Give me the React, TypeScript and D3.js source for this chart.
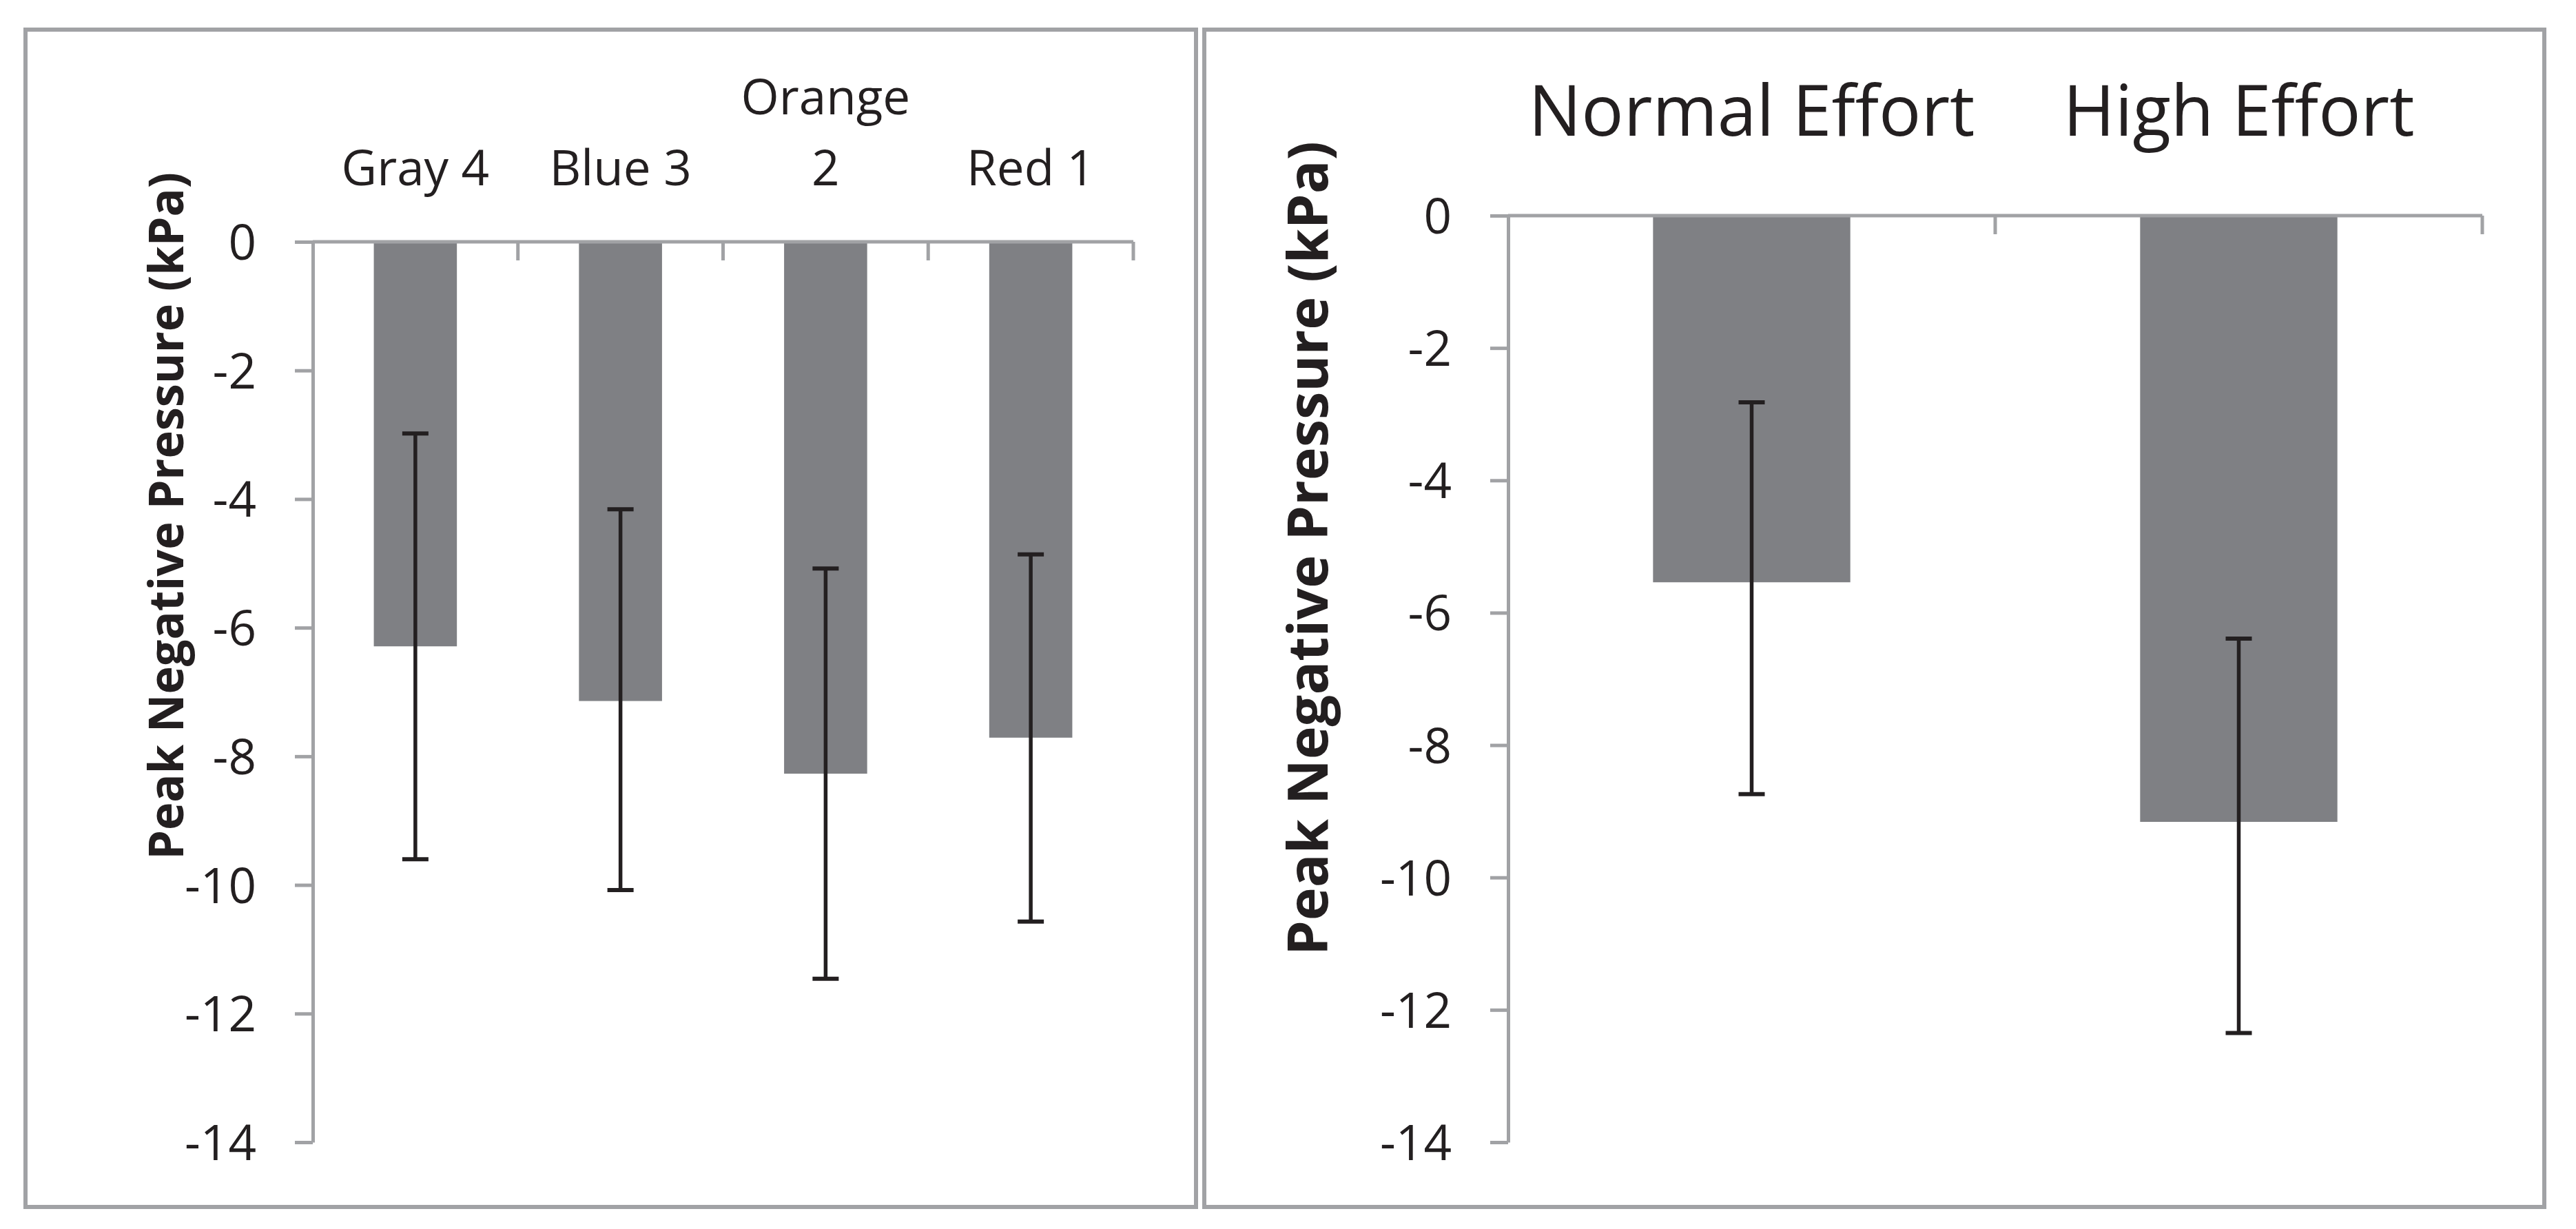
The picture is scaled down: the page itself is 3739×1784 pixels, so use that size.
import * as d3 from 'd3';
import { useEffect, useRef } from 'react';

// left panel: colour groups
const colorCategories = ['Gray 4', 'Blue 3', 'Orange 2', 'Red 1'];
const colorMeans = [-6.29, -7.14, -8.27, -7.71];
const colorErrUp = [3.31, 2.98, 3.19, 2.85];
const colorErrDown = [3.31, 2.94, 3.19, 2.86];

// right panel: effort groups
const effortCategories = ['Normal Effort', 'High Effort'];
const effortMeans = [-5.54, -9.16];
const effortErrUp = [2.72, 2.77];
const effortErrDown = [3.2, 3.19];

const yTicks = [0, -2, -4, -6, -8, -10, -12, -14];
const yTitle = 'Peak Negative Pressure (kPa)';

const W = 3739;
const H = 1784;
const axisColor = '#a1a2a5';
const barColor = '#7f8084';
const inkColor = '#231f20';
const labelFont = '"Open Sans", "Noto Sans", sans-serif';

interface PanelOpts {
    box: [number, number, number, number];
    categories: string[];
    means: number[];
    errUp: number[];
    errDown: number[];
    xRange: [number, number];
    yRange: [number, number];
    catSize: number;
    catBaseline: number;
    titleX: number;
    titleY: number;
    titleSize: number;
    titleLength: number;
}

function drawPanel(svg: d3.Selection<SVGSVGElement, unknown, null, undefined>, o: PanelOpts) {
    const g = svg.append('g');

    g.append('rect')
        .attr('x', o.box[0])
        .attr('y', o.box[1])
        .attr('width', o.box[2])
        .attr('height', o.box[3])
        .attr('fill', 'none')
        .attr('stroke', axisColor)
        .attr('stroke-width', 6);

    const x = d3.scaleBand<string>().domain(o.categories).range(o.xRange).paddingInner(0).paddingOuter(0);
    const y = d3.scaleLinear().domain([0, -14]).range(o.yRange);
    const bw = x.bandwidth() * 0.405;

    // bars
    g.selectAll('rect.bar')
        .data(o.categories)
        .enter()
        .append('rect')
        .attr('class', 'bar')
        .attr('x', (d) => (x(d) as number) + x.bandwidth() / 2 - bw / 2)
        .attr('y', y(0))
        .attr('width', bw)
        .attr('height', (_d, i) => y(o.means[i]) - y(0))
        .attr('fill', barColor);

    // y axis
    const yAxis = g
        .append('g')
        .attr('transform', 'translate(' + o.xRange[0] + ',0)')
        .call(d3.axisLeft(y).tickValues(yTicks).tickSize(26).tickSizeOuter(0).tickPadding(56).tickFormat((d) => String(d)));
    yAxis.select('.domain').attr('stroke', axisColor).attr('stroke-width', 5);
    yAxis.selectAll('.tick line').attr('stroke', axisColor).attr('stroke-width', 5);
    yAxis
        .selectAll('.tick text')
        .attr('fill', inkColor)
        .attr('font-family', labelFont)
        .attr('font-size', 71)
        .attr('dy', '0.36em');

    // category axis along zero line, ticks pointing down at band edges
    g.append('line')
        .attr('x1', o.xRange[0])
        .attr('x2', o.xRange[1])
        .attr('y1', y(0))
        .attr('y2', y(0))
        .attr('stroke', axisColor)
        .attr('stroke-width', 5);
    g.selectAll('line.cat-tick')
        .data(o.categories)
        .enter()
        .append('line')
        .attr('class', 'cat-tick')
        .attr('x1', (d) => (x(d) as number) + x.bandwidth())
        .attr('x2', (d) => (x(d) as number) + x.bandwidth())
        .attr('y1', y(0))
        .attr('y2', y(0) + 27)
        .attr('stroke', axisColor)
        .attr('stroke-width', 5);

    // category labels above the axis (long names wrap)
    const lineGap = o.catSize * 1.45;
    o.categories.forEach((c) => {
        const words = c.split(' ');
        const lines = o.catSize < 90 && c.length > 6 ? words : [c];
        const t = g
            .append('text')
            .attr('x', (x(c) as number) + x.bandwidth() / 2)
            .attr('y', o.catBaseline - (lines.length - 1) * lineGap)
            .attr('text-anchor', 'middle')
            .attr('font-family', labelFont)
            .attr('font-size', o.catSize)
            .attr('fill', inkColor);
        lines.forEach((l, i) => {
            t.append('tspan')
                .attr('x', (x(c) as number) + x.bandwidth() / 2)
                .attr('dy', i === 0 ? 0 : lineGap)
                .text(l);
        });
    });

    // error bars
    const caps = 38;
    o.categories.forEach((c, i) => {
        const cx = (x(c) as number) + x.bandwidth() / 2;
        const top = y(o.means[i] + o.errUp[i]);
        const bottom = y(o.means[i] - o.errDown[i]);
        g.append('line')
            .attr('x1', cx)
            .attr('x2', cx)
            .attr('y1', top)
            .attr('y2', bottom)
            .attr('stroke', inkColor)
            .attr('stroke-width', 5.5);
        [top, bottom].forEach((yy) => {
            g.append('line')
                .attr('x1', cx - caps / 2)
                .attr('x2', cx + caps / 2)
                .attr('y1', yy)
                .attr('y2', yy)
                .attr('stroke', inkColor)
                .attr('stroke-width', 6);
        });
    });

    // axis title
    g.append('text')
        .attr('transform', 'translate(' + o.titleX + ',' + o.titleY + ') rotate(-90)')
        .attr('text-anchor', 'middle')
        .attr('font-family', labelFont)
        .attr('font-weight', 'bold')
        .attr('font-size', o.titleSize)
        .attr('textLength', o.titleLength)
        .attr('lengthAdjust', 'spacingAndGlyphs')
        .attr('fill', inkColor)
        .text(yTitle);
}

export default function App() {
    const svgRef = useRef<SVGSVGElement>(null);

    useEffect(() => {
        document.body.style.margin = '0';
        if (!svgRef.current) return;
        const svg = d3.select(svgRef.current);
        svg.selectAll('*').remove();

        svg.append('rect').attr('width', W).attr('height', H).attr('fill', '#ffffff');

        drawPanel(svg, {
            box: [37, 43, 1699, 1709],
            categories: colorCategories,
            means: colorMeans,
            errUp: colorErrUp,
            errDown: colorErrDown,
            xRange: [454, 1645],
            yRange: [351, 1658],
            catSize: 71,
            catBaseline: 269,
            titleX: 266,
            titleY: 749,
            titleSize: 69,
            titleLength: 998,
        });

        drawPanel(svg, {
            box: [1748, 43, 1945, 1709],
            categories: effortCategories,
            means: effortMeans,
            errUp: effortErrUp,
            errDown: effortErrDown,
            xRange: [2189, 3603],
            yRange: [313, 1658],
            catSize: 102,
            catBaseline: 197,
            titleX: 1927,
            titleY: 796,
            titleSize: 80,
            titleLength: 1182,
        });
    }, []);

    return (
        <div style={{ width: W, height: H }}>
            <svg ref={svgRef} width={W} height={H} style={{ display: 'block' }} />
        </div>
    );
}
